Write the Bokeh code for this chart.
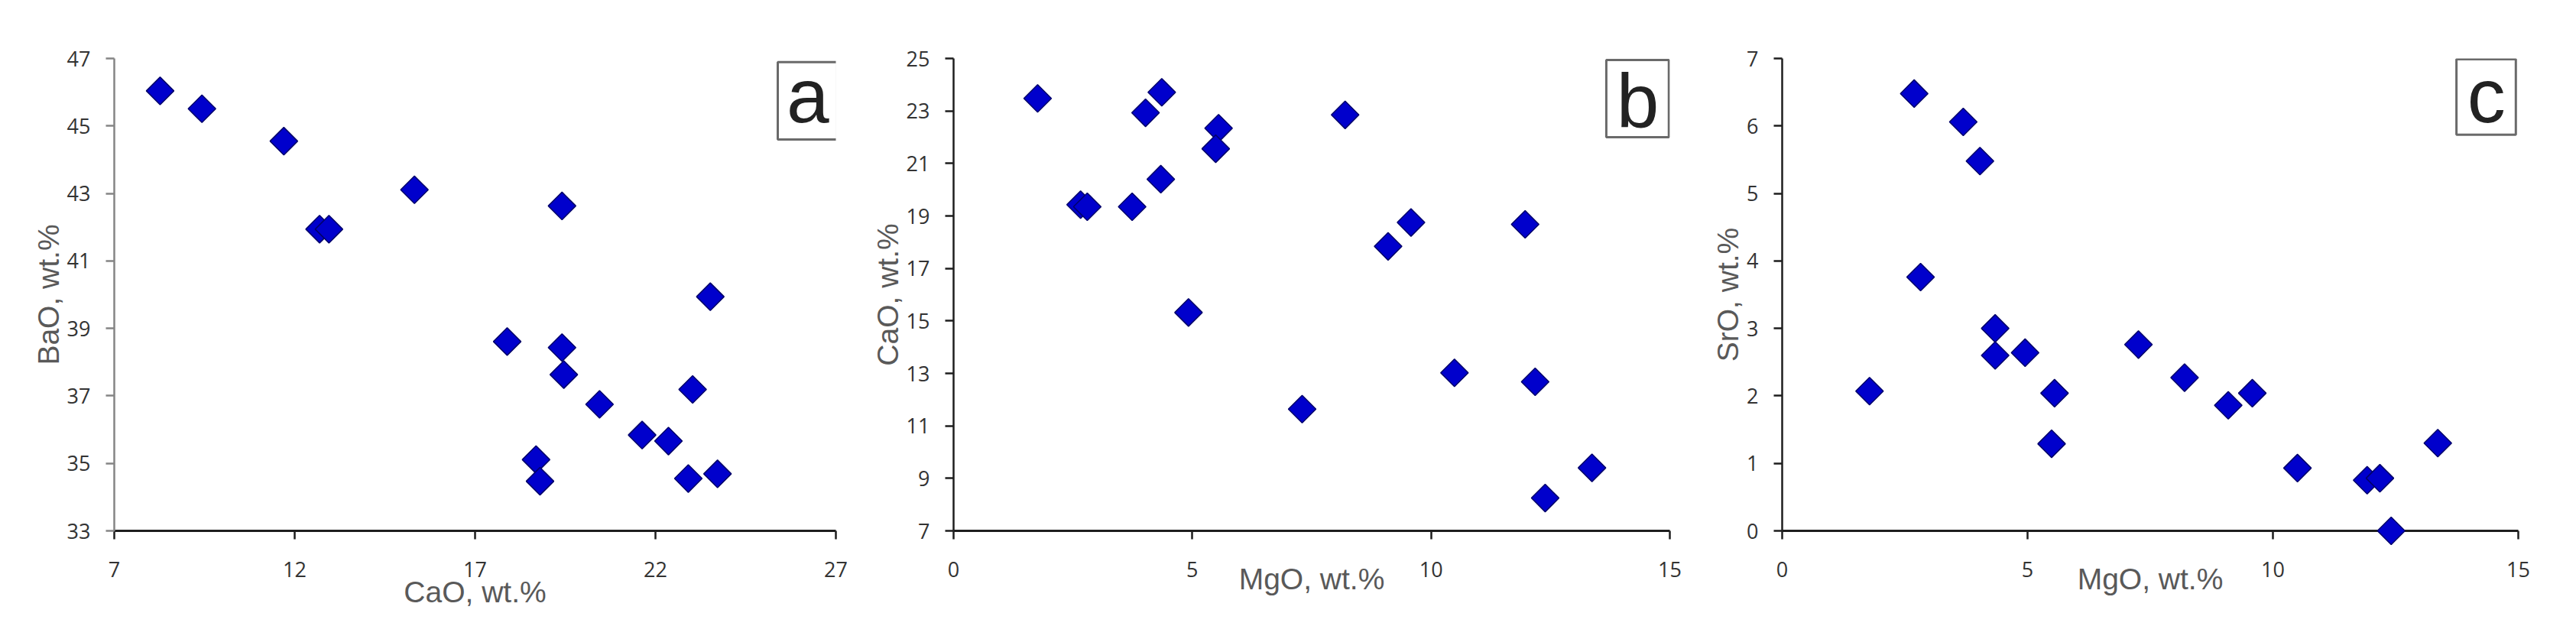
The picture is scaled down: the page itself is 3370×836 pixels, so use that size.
from bokeh.plotting import figure
from bokeh.layouts import row
from bokeh.models import Range1d, FixedTicker, Label, BoxAnnotation
from bokeh.embed import file_html
from bokeh.resources import INLINE

# ---- data ----
cao_a = [8.27, 9.43, 11.70, 15.32, 12.69, 12.95, 19.41, 23.52, 17.89, 19.41,
         19.46, 20.45, 23.03, 21.63, 22.36, 18.69, 18.80, 22.91, 23.72]
bao_a = [46.04, 45.51, 44.55, 43.11, 41.94, 41.94, 42.63, 39.94, 38.61, 38.43,
         37.63, 36.75, 37.19, 35.84, 35.66, 35.11, 34.47, 34.55, 34.69]

mgo_b = [1.76, 4.36, 4.02, 8.20, 5.55, 5.49, 4.34, 2.66, 2.80, 3.74,
         9.58, 11.97, 9.10, 4.92, 10.49, 12.18, 7.30, 13.37, 12.39]
cao_b = [23.48, 23.71, 22.93, 22.85, 22.34, 21.56, 20.40, 19.43, 19.35, 19.35,
         18.75, 18.68, 17.84, 15.32, 13.02, 12.68, 11.64, 9.40, 8.25]

mgo_c = [2.69, 3.69, 4.03, 2.82, 4.34, 4.34, 4.95, 7.26, 8.20, 1.78,
         5.55, 9.58, 9.09, 5.49, 13.36, 10.50, 11.92, 12.18, 12.41]
sro_c = [6.48, 6.06, 5.48, 3.76, 3.00, 2.60, 2.64, 2.76, 2.27, 2.07,
         2.04, 2.04, 1.86, 1.29, 1.30, 0.93, 0.75, 0.78, 0.00]

ticks_x_a = [7, 12, 17, 22, 27]
ticks_y_a = [33, 35, 37, 39, 41, 43, 45, 47]
ticks_x_bc = [0, 5, 10, 15]
ticks_y_b = [7, 9, 11, 13, 15, 17, 19, 21, 23, 25]
ticks_y_c = [0, 1, 2, 3, 4, 5, 6, 7]

labels_x = ["CaO, wt.%", "MgO, wt.%", "MgO, wt.%"]
labels_y = ["BaO, wt.%", "CaO, wt.%", "SrO, wt.%"]
letters = ["a", "b", "c"]

FRAME_TOP = 76
FRAME_H = 618
FIG_H = 818


def panel(x, y, xticks, yticks, xlabel, ylabel, letter, box, letter_xy,
          border_left, frame_w, border_right, yaxis_color, xlabel_standoff):
    p = figure(width=border_left + frame_w + border_right, height=FIG_H,
               x_range=Range1d(xticks[0], xticks[-1]),
               y_range=Range1d(yticks[0], yticks[-1]),
               output_backend="svg", toolbar_location=None,
               min_border_left=border_left, min_border_right=border_right,
               min_border_top=FRAME_TOP,
               min_border_bottom=FIG_H - FRAME_TOP - FRAME_H)
    p.outline_line_color = None
    p.xgrid.visible = False
    p.ygrid.visible = False
    p.background_fill_color = "white"

    p.xaxis.ticker = FixedTicker(ticks=xticks)
    p.yaxis.ticker = FixedTicker(ticks=yticks)
    for ax, col, lw in ((p.xaxis, "#1e1e1e", 3), (p.yaxis, yaxis_color, 2.5)):
        ax.axis_line_color = col
        ax.axis_line_width = lw
        ax.major_tick_line_color = col
        ax.major_tick_line_width = 2.5
        ax.major_tick_out = 11
        ax.major_tick_in = 0
        ax.minor_tick_out = 0
        ax.minor_tick_in = 0
        ax.major_label_text_font = "Open Sans"
        ax.major_label_text_font_size = "27px"
        ax.major_label_text_color = "#333333"
        ax.axis_label_text_font = "Liberation Sans"
        ax.axis_label_text_font_size = "39px"
        ax.axis_label_text_font_style = "normal"
        ax.axis_label_text_color = "#595959"
    p.xaxis.major_label_standoff = 29
    p.yaxis.major_label_standoff = 20
    p.xaxis.axis_label = xlabel
    p.yaxis.axis_label = ylabel
    p.xaxis.axis_label_standoff = xlabel_standoff
    p.yaxis.axis_label_standoff = 0

    r = p.scatter(x, y, marker="square", size=25.5, angle=0.785398,
                  fill_color="#0000cc", line_color="#00006a", line_width=1.5)
    r.level = "overlay"

    l, rr, t, b = box
    p.add_layout(BoxAnnotation(left=l, right=rr, top=t, bottom=b,
                               fill_color="white", fill_alpha=1.0,
                               line_color="#6a6a6a", line_alpha=1.0,
                               line_width=3, level="annotation"))
    p.add_layout(Label(x=letter_xy[0], y=letter_xy[1], text=letter,
                       text_font="Liberation Sans", text_font_size="100px",
                       text_color="#222222", text_align="center",
                       text_baseline="middle"))
    return p


pa = panel(cao_a, bao_a, ticks_x_a, ticks_y_a, labels_x[0], labels_y[0],
           letters[0], (25.39, 27.04, 46.89, 44.60), (26.22, 45.89),
           149, 944, 27, "#858585", -5)
pb = panel(mgo_b, cao_b, ticks_x_bc, ticks_y_b, labels_x[1], labels_y[1],
           letters[1], (13.67, 14.98, 24.94, 22.0), (14.33, 23.37),
           127, 937, 36, "#1e1e1e", -22)
pc = panel(mgo_c, sro_c, ticks_x_bc, ticks_y_c, labels_x[2], labels_y[2],
           letters[2], (13.74, 14.95, 6.99, 5.87), (14.35, 6.445),
           111, 963, 60, "#1e1e1e", -22)

layout = row(pa, pb, pc)
open("out.html", "w").write(file_html(layout, INLINE))
